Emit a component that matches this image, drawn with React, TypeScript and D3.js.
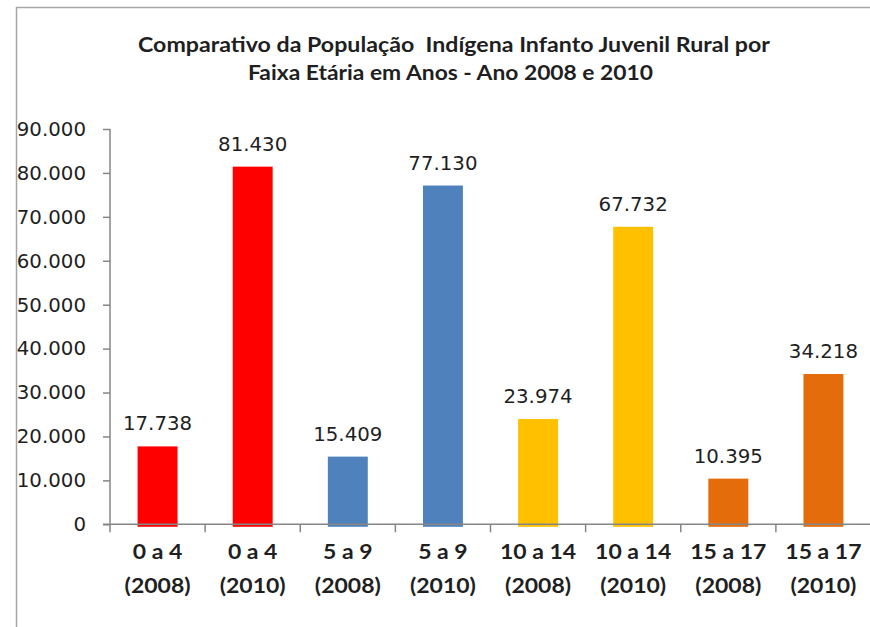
import { useEffect, useRef } from "react";
import * as d3 from "d3";

const categories = [
  "0 a 4|(2008)",
  "0 a 4|(2010)",
  "5 a 9|(2008)",
  "5 a 9|(2010)",
  "10 a 14|(2008)",
  "10 a 14|(2010)",
  "15 a 17|(2008)",
  "15 a 17|(2010)",
];
const values = [17738, 81430, 15409, 77130, 23974, 67732, 10395, 34218];
const barColors = ["#FF0000", "#FF0000", "#4F81BD", "#4F81BD", "#FFC000", "#FFC000", "#E46C0A", "#E46C0A"];
const yTicks = [0, 10000, 20000, 30000, 40000, 50000, 60000, 70000, 80000, 90000];
const titleLines = [
  "Comparativo da População  Indígena Infanto Juvenil Rural por",
  "Faixa Etária em Anos - Ano 2008 e 2010",
];

const W = 870;
const H = 627;
const AXIS = "#868686";
const TEXT = "#1f1f1f";

const fmt = (v: number) => v.toLocaleString("de-DE");

export default function App() {
  const svgRef = useRef<SVGSVGElement>(null);

  useEffect(() => {
    const svgEl = svgRef.current;
    if (!svgEl) return;
    const svg = d3.select(svgEl);
    svg.selectAll("*").remove();

    const margin = { top: 129, left: 110, right: -1, bottom: 102.7 };
    const innerW = W - margin.left - margin.right;
    const innerH = H - margin.top - margin.bottom;

    svg.append("rect").attr("width", W).attr("height", H).attr("fill", "#fff");

    // outer frame (cropped)
    svg
      .append("path")
      .attr("d", `M16.5,${H} V7.5 H${W}`)
      .attr("fill", "none")
      .attr("stroke", "#a6a6a6")
      .attr("stroke-width", 1.5);

    // title, stretched to the reference widths
    const titleSpans = [
      { x: 138, w: 632, y: 52 },
      { x: 248, w: 405, y: 80 },
    ];
    titleLines.forEach((line, i) => {
      svg
        .append("text")
        .attr("x", titleSpans[i].x)
        .attr("y", titleSpans[i].y)
        .attr("textLength", titleSpans[i].w)
        .attr("lengthAdjust", "spacingAndGlyphs")
        .style("white-space", "pre")
        .attr("font-family", "Lato, 'Open Sans', sans-serif")
        .attr("font-weight", "bold")
        .attr("font-size", "20px")
        .attr("fill", TEXT)
        .text(line);
    });

    const g = svg.append("g").attr("transform", `translate(${margin.left},${margin.top})`);

    const x = d3.scaleBand<string>().domain(categories).range([0, innerW]).paddingInner(0.58).paddingOuter(0.29);
    const y = d3.scaleLinear().domain([0, 90000]).range([innerH, 0]);
    const step = x.step();

    // bars
    g.selectAll(".bar")
      .data(values)
      .enter()
      .append("rect")
      .attr("class", "bar")
      .attr("x", (_, i) => x(categories[i])!)
      .attr("y", (d) => y(d))
      .attr("width", x.bandwidth())
      .attr("height", (d) => innerH - y(d) + 2.5)
      .attr("fill", (_, i) => barColors[i]);

    // y axis
    const yAxis = g.append("g").call(
      d3
        .axisLeft(y)
        .tickValues(yTicks)
        .tickSize(7)
        .tickPadding(17)
        .tickFormat((d) => fmt(Number(d)))
    );
    yAxis.select(".domain").attr("stroke", AXIS).attr("stroke-width", 1.5).attr("d", `M0,0V${innerH}`);
    yAxis.selectAll(".tick line").attr("stroke", AXIS).attr("stroke-width", 1.5);
    yAxis
      .selectAll("text")
      .attr("fill", TEXT)
      .attr("font-size", "19.8px")
      .attr("font-family", "'DejaVu Sans', Verdana, sans-serif");

    // x axis
    const xg = g.append("g").attr("transform", `translate(0,${innerH})`);
    xg.append("line")
      .attr("x1", -7)
      .attr("x2", innerW)
      .attr("stroke", AXIS)
      .attr("stroke-width", 1.5);
    xg.selectAll(".xtick")
      .data(d3.range(categories.length + 1))
      .enter()
      .append("line")
      .attr("x1", (i) => i * step)
      .attr("x2", (i) => i * step)
      .attr("y1", 0)
      .attr("y2", 8)
      .attr("stroke", AXIS)
      .attr("stroke-width", 1.5);

    xg.selectAll(".xlabel")
      .data(categories)
      .enter()
      .append("g")
      .attr("transform", (d) => `translate(${x(d)! + x.bandwidth() / 2},0) scale(1.15,1)`)
      .each(function (d) {
        const t = d3
          .select(this)
          .append("text")
          .attr("text-anchor", "middle")
          .attr("font-family", "Lato, 'Open Sans', sans-serif")
          .attr("font-weight", "bold")
          .attr("font-size", "20px")
          .attr("fill", TEXT);
        d.split("|").forEach((p, j) => {
          t.append("tspan").attr("x", 0).attr("y", 35 + j * 34).text(p);
        });
      });

    // value labels
    g.selectAll(".val")
      .data(values)
      .enter()
      .append("text")
      .attr("class", "val")
      .attr("x", (_, i) => x(categories[i])! + x.bandwidth() / 2)
      .attr("y", (d) => y(d) - 16)
      .attr("text-anchor", "middle")
      .attr("fill", TEXT)
      .attr("font-size", "19.8px")
      .attr("font-family", "'DejaVu Sans', Verdana, sans-serif")
      .text((d) => fmt(d));
  }, []);

  return (
    <svg
      ref={svgRef}
      width={W}
      height={H}
      style={{ position: "absolute", left: 0, top: 0, display: "block" }}
    />
  );
}
